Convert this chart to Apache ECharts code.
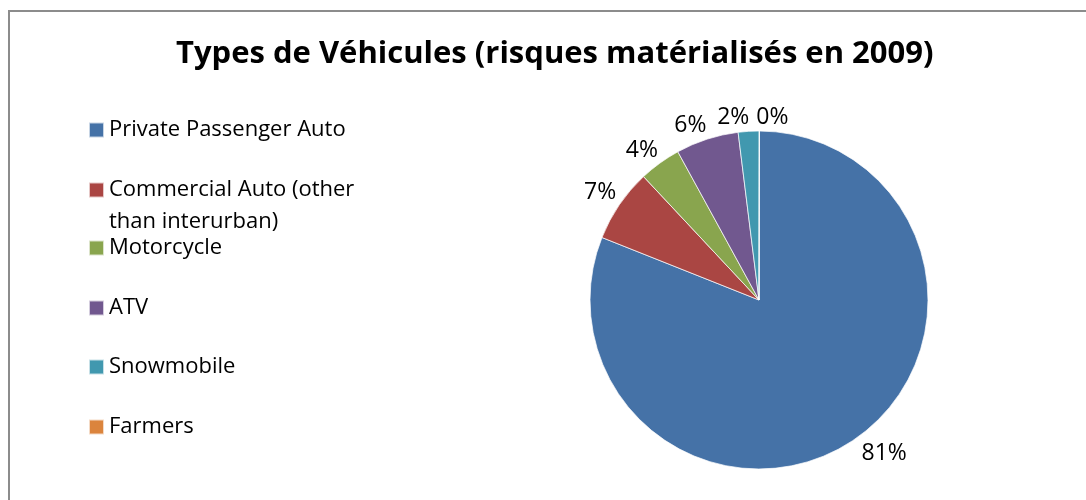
<!DOCTYPE html>
<html>
<head>
<meta charset="utf-8">
<script src="https://cdn.jsdelivr.net/npm/echarts@6/dist/echarts.min.js"></script>
<style>
html,body{margin:0;padding:0;background:#fff;}
#chart{width:1086px;height:500px;}
</style>
</head>
<body>
<div id="chart"></div>
<script>
// ---- data ----
var titleText = 'Types de Véhicules (risques matérialisés en 2009)';
var categories = ['Private Passenger Auto', 'Commercial Auto (other than interurban)', 'Motorcycle', 'ATV', 'Snowmobile', 'Farmers'];
var legendLabels = ['Private Passenger Auto', 'Commercial Auto (other\nthan interurban)', 'Motorcycle', 'ATV', 'Snowmobile', 'Farmers'];
var values = [81, 7, 4, 6, 2, 0];

// ---- styles / layout ----
var colors = ['#4572A7', '#AA4643', '#89A54E', '#71588F', '#4198AF', '#DB843D'];
var legendCenters = [130, 190, 248, 308, 367, 427];
var FONT = 'Open Sans';
var START_ANGLE = 89.9;

var chart = echarts.init(document.getElementById('chart'), null, {renderer: 'canvas'});

var legends = categories.map(function (name, i) {
  var multi = legendLabels[i].indexOf('\n') >= 0;
  var lh = multi ? 32 : 26;
  var text = multi ? '\n' + legendLabels[i] : legendLabels[i];
  var top = multi ? legendCenters[i] - lh * 1.5 : legendCenters[i] - lh / 2;
  return {
    data: [name],
    orient: 'vertical',
    left: 88,
    top: top,
    padding: 0,
    itemWidth: 15,
    itemHeight: 15,
    icon: 'rect',
    selectedMode: false,
    formatter: function () { return text; },
    textStyle: {fontFamily: FONT, fontSize: 22, color: '#000', lineHeight: lh}
  };
});

// labels: upper-half labels sit above their anchor, lower-half below; left-side / top ones hug the pie
var total = values.reduce(function (a, b) { return a + b; }, 0);
var cum = 0;
var labelSide = {};
var seriesData = categories.map(function (name, i) {
  var mid = (90 - START_ANGLE) * Math.PI / 180 + (cum + values[i] / 2) / total * 2 * Math.PI;
  cum += values[i];
  labelSide[name] = Math.cos(mid) >= 0 ? 'up' : 'down';
  var s = Math.sin(mid);
  var len2 = s < 0 ? -6 : (s < 0.1 ? -8 : 0);
  return {
    name: name, value: values[i],
    itemStyle: {color: colors[i]},
    labelLine: {length2: len2}
  };
});

chart.setOption({
  animation: false,
  backgroundColor: '#fff',
  title: {
    text: titleText,
    left: 176,
    top: 34,
    padding: 0,
    textStyle: {fontFamily: FONT, fontSize: 31, fontWeight: 'bold', color: '#000', lineHeight: 40}
  },
  graphic: [{
    type: 'rect',
    silent: true,
    shape: {x: 9, y: 11, width: 1200, height: 600},
    style: {fill: 'none', stroke: '#8c8c8c', lineWidth: 2}
  }],
  legend: legends,
  series: [{
    type: 'pie',
    center: [759, 300],
    radius: 169,
    startAngle: START_ANGLE,
    clockwise: true,
    avoidLabelOverlap: false,
    minShowLabelAngle: 0,
    labelLayout: {hideOverlap: false},
    silent: true,
    emphasis: {disabled: true},
    itemStyle: {borderColor: 'rgba(255,255,255,0.7)', borderWidth: 1},
    label: {
      show: true,
      position: 'outside',
      fontFamily: FONT,
      fontSize: 23,
      lineHeight: 18,
      color: '#000',
      formatter: function (p) {
        var t = Math.round(p.percent) + '%';
        return labelSide[p.name] === 'up' ? t + '\n' : '\n' + t;
      }
    },
    labelLine: {show: false, length: 5, length2: 0},
    data: seriesData
  }]
});
</script>
</body>
</html>
